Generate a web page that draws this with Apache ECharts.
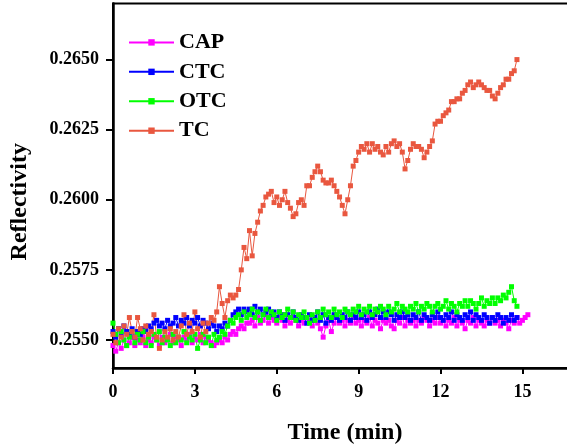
<!doctype html>
<html>
<head>
    <title>Reflectivity vs Time</title>
    <script src="https://cdn.jsdelivr.net/npm/echarts@6/dist/echarts.min.js"></script>
</head>
<style>
    html, body { margin: 0; padding: 0; background: #fff; }
    #chart { width: 567px; height: 444px; }
</style>
<body>
<div id="chart"></div>
<script>
  // sampling interval of the measurement, in min
  var sampleStep = 0.1;

  var seriesNames = ['CAP', 'CTC', 'OTC', 'TC'];
  var seriesColors = ['#ff00ff', '#0000ff', '#00ff00', '#e9573f'];

  var xTicks = [0, 3, 6, 9, 12, 15];
  var yTicks = [0.2550, 0.2575, 0.2600, 0.2625, 0.2650];

  var capValues = [
    0.2548, 0.2546, 0.2549, 0.2547, 0.2550, 0.2548, 0.2549, 0.2551, 0.2548, 0.2550,
    0.2549, 0.2551, 0.2548, 0.2550, 0.2549, 0.2551, 0.2550, 0.2548, 0.2551, 0.2549,
    0.2550, 0.2552, 0.2549, 0.2551, 0.2550, 0.2548, 0.2551, 0.2550, 0.2552, 0.2549,
    0.2551, 0.2550, 0.2552, 0.2549, 0.2551, 0.2550, 0.2549, 0.2548, 0.2549, 0.2550,
    0.2549, 0.2551, 0.2550, 0.2552, 0.2553, 0.2552, 0.2554, 0.2555, 0.2554, 0.2556,
    0.2556, 0.2557, 0.2555, 0.2558, 0.2556, 0.2557, 0.2559, 0.2556, 0.2558, 0.2557,
    0.2556, 0.2558, 0.2557, 0.2555, 0.2557, 0.2556, 0.2558, 0.2557, 0.2555, 0.2557,
    0.2556, 0.2558, 0.2557, 0.2555, 0.2557, 0.2556, 0.2554, 0.2551, 0.2555, 0.2557,
    0.2553, 0.2556, 0.2558, 0.2556, 0.2557, 0.2555, 0.2557, 0.2556, 0.2558, 0.2556,
    0.2557, 0.2555, 0.2557, 0.2556, 0.2558, 0.2555, 0.2557, 0.2556, 0.2554, 0.2557,
    0.2556, 0.2557, 0.2555, 0.2554, 0.2557, 0.2556, 0.2558, 0.2555, 0.2557, 0.2556,
    0.2557, 0.2555, 0.2557, 0.2556, 0.2558, 0.2557, 0.2555, 0.2557, 0.2556, 0.2558,
    0.2556, 0.2557, 0.2555, 0.2557, 0.2556, 0.2558, 0.2555, 0.2557, 0.2556, 0.2554,
    0.2557, 0.2556, 0.2558, 0.2555, 0.2557, 0.2556, 0.2555, 0.2557, 0.2556, 0.2558,
    0.2556, 0.2557, 0.2555, 0.2557, 0.2556, 0.2554, 0.2557, 0.2556, 0.2558, 0.2556,
    0.2557, 0.2558, 0.2559
  ];

  var ctcValues = [
    0.2553, 0.2551, 0.2554, 0.2552, 0.2555, 0.2553, 0.2552, 0.2554, 0.2551, 0.2553,
    0.2552, 0.2554, 0.2553, 0.2555, 0.2554, 0.2556, 0.2557, 0.2555, 0.2556, 0.2554,
    0.2557, 0.2555, 0.2556, 0.2558, 0.2555, 0.2557, 0.2556, 0.2558, 0.2555, 0.2557,
    0.2556, 0.2558, 0.2555, 0.2557, 0.2556, 0.2554, 0.2556, 0.2555, 0.2553, 0.2555,
    0.2554, 0.2556, 0.2555, 0.2557, 0.2559, 0.2560, 0.2561, 0.2559, 0.2561, 0.2560,
    0.2561, 0.2559, 0.2562, 0.2560, 0.2561, 0.2559, 0.2560, 0.2561, 0.2559, 0.2560,
    0.2558, 0.2560, 0.2559, 0.2557, 0.2559, 0.2558, 0.2560, 0.2558, 0.2557, 0.2559,
    0.2558, 0.2556, 0.2559, 0.2557, 0.2558, 0.2560, 0.2557, 0.2559, 0.2556, 0.2558,
    0.2557, 0.2559, 0.2558, 0.2557, 0.2559, 0.2558, 0.2560, 0.2557, 0.2559, 0.2558,
    0.2560, 0.2558, 0.2559, 0.2557, 0.2560, 0.2558, 0.2559, 0.2561, 0.2558, 0.2560,
    0.2558, 0.2560, 0.2559, 0.2557, 0.2559, 0.2558, 0.2560, 0.2558, 0.2559, 0.2557,
    0.2559, 0.2558, 0.2560, 0.2557, 0.2559, 0.2558, 0.2557, 0.2559, 0.2558, 0.2560,
    0.2558, 0.2557, 0.2559, 0.2558, 0.2560, 0.2557, 0.2559, 0.2558, 0.2557, 0.2559,
    0.2558, 0.2560, 0.2557, 0.2559, 0.2558, 0.2557, 0.2559, 0.2558, 0.2556, 0.2558,
    0.2557, 0.2559, 0.2558, 0.2556, 0.2558, 0.2557, 0.2559, 0.2557, 0.2558
  ];

  var otcValues = [
    0.2556, 0.2552, 0.2549, 0.2553, 0.2550, 0.2548, 0.2551, 0.2553, 0.2549, 0.2552,
    0.2550, 0.2553, 0.2549, 0.2551, 0.2548, 0.2552, 0.2550, 0.2553, 0.2549, 0.2551,
    0.2550, 0.2548, 0.2552, 0.2549, 0.2551, 0.2550, 0.2553, 0.2549, 0.2551, 0.2550,
    0.2552, 0.2547, 0.2550, 0.2552, 0.2549, 0.2551, 0.2548, 0.2552, 0.2550, 0.2551,
    0.2553, 0.2552, 0.2555, 0.2557, 0.2556, 0.2558, 0.2559, 0.2557, 0.2560, 0.2558,
    0.2559, 0.2561, 0.2558, 0.2560, 0.2557, 0.2559, 0.2561, 0.2558, 0.2560, 0.2559,
    0.2557, 0.2560, 0.2558, 0.2559, 0.2561, 0.2558, 0.2560, 0.2557, 0.2559, 0.2558,
    0.2560, 0.2558, 0.2556, 0.2559, 0.2557, 0.2560, 0.2558, 0.2561, 0.2559, 0.2560,
    0.2558, 0.2561, 0.2559, 0.2560, 0.2558, 0.2561, 0.2560, 0.2559, 0.2561, 0.2560,
    0.2562, 0.2559, 0.2561, 0.2560, 0.2562, 0.2559, 0.2561, 0.2560, 0.2562, 0.2561,
    0.2559, 0.2562, 0.2560, 0.2561, 0.2563, 0.2560, 0.2562, 0.2561, 0.2560, 0.2562,
    0.2561, 0.2563, 0.2560, 0.2562, 0.2561, 0.2563, 0.2562, 0.2560, 0.2562, 0.2563,
    0.2561, 0.2562, 0.2564, 0.2561, 0.2563, 0.2562, 0.2560, 0.2563, 0.2562, 0.2564,
    0.2562, 0.2564, 0.2563, 0.2561, 0.2563, 0.2565, 0.2562, 0.2564, 0.2563, 0.2565,
    0.2563, 0.2565, 0.2564, 0.2566, 0.2565, 0.2567, 0.2569, 0.2564, 0.2562
  ];

  var tcValues = [
    0.2552, 0.2549, 0.2554, 0.2551, 0.2555, 0.2552, 0.2558, 0.2553, 0.2551, 0.2558,
    0.2554, 0.2550, 0.2555, 0.2552, 0.2553, 0.2559, 0.2551, 0.2547, 0.2550, 0.2553,
    0.2551, 0.2554, 0.2550, 0.2553, 0.2551, 0.2555, 0.2559, 0.2552, 0.2556, 0.2553,
    0.2560, 0.2554, 0.2551, 0.2556, 0.2553, 0.2556, 0.2558, 0.2557, 0.2560, 0.2569,
    0.2563, 0.2558, 0.2564, 0.2566, 0.2565, 0.2566, 0.2568, 0.2575, 0.2583, 0.2579,
    0.2589, 0.2580, 0.2588, 0.2592, 0.2596, 0.2598, 0.2601, 0.2602, 0.2603, 0.2599,
    0.2601, 0.2598, 0.2600, 0.2603, 0.2599, 0.2597, 0.2594, 0.2595, 0.2599, 0.2600,
    0.2598, 0.2605, 0.2605, 0.2608, 0.2610, 0.2612, 0.2610, 0.2607, 0.2606, 0.2606,
    0.2607, 0.2605, 0.2603, 0.2601, 0.2598, 0.2595, 0.2600, 0.2605, 0.2612, 0.2614,
    0.2617, 0.2619, 0.2618, 0.2620, 0.2617, 0.2620, 0.2618, 0.2619, 0.2617, 0.2616,
    0.2619, 0.2617, 0.2620, 0.2621, 0.2619, 0.2620, 0.2617, 0.2611, 0.2614, 0.2618,
    0.2620, 0.2619, 0.2619, 0.2618, 0.2615, 0.2617, 0.2619, 0.2621, 0.2627, 0.2628,
    0.2628, 0.2630, 0.2631, 0.2632, 0.2635, 0.2635, 0.2636, 0.2636, 0.2638, 0.2639,
    0.2641, 0.2642, 0.2640, 0.2641, 0.2642, 0.2641, 0.2640, 0.2639, 0.2639, 0.2637,
    0.2636, 0.2638, 0.2640, 0.2641, 0.2643, 0.2643, 0.2645, 0.2646, 0.2650
  ];

  var allValues = [capValues, ctcValues, otcValues, tcValues];

  function toPoints(values) {
    var pts = [];
    for (var i = 0; i < values.length; i++) {
      pts.push([+(i * sampleStep).toFixed(2), values[i]]);
    }
    return pts;
  }

  var font = 'Liberation Serif, Times New Roman, serif';

  var series = seriesNames.map(function (name, k) {
    return {
      name: name,
      type: 'line',
      data: toPoints(allValues[k]),
      symbol: 'rect',
      symbolSize: 5,
      showAllSymbol: true,
      itemStyle: { color: seriesColors[k] },
      lineStyle: { color: seriesColors[k], width: 1 },
      emphasis: { disabled: true }
    };
  });

  var myChart = echarts.init(document.getElementById('chart'), null, { renderer: 'canvas' });

  myChart.setOption({
    backgroundColor: '#fff',
    animation: false,
    grid: {
      left: 113,
      right: -10,
      top: 3.5,
      bottom: 76,
      outerBoundsMode: 'none',
      containLabel: false,
      show: true,
      borderColor: '#000',
      borderWidth: 2
    },
    legend: {
      orient: 'vertical',
      left: 123,
      top: 20,
      itemWidth: 45,
      itemHeight: 8,
      itemGap: -5.4,
      data: seriesNames,
      textStyle: {
        fontFamily: font,
        fontWeight: 'bold',
        fontSize: 22,
        lineHeight: 22,
        color: '#000'
      }
    },
    xAxis: {
      type: 'value',
      min: 0,
      max: 17,
      name: 'Time (min)',
      nameLocation: 'middle',
      nameGap: 46,
      nameTextStyle: { fontFamily: font, fontWeight: 'bold', fontSize: 24, color: '#000' },
      axisLine: { lineStyle: { color: '#000', width: 2.5 } },
      axisTick: { customValues: xTicks, length: 6, lineStyle: { color: '#000', width: 2 } },
      axisLabel: {
        customValues: xTicks,
        margin: 10,
        fontFamily: font,
        fontWeight: 'bold',
        fontSize: 18,
        color: '#000'
      },
      splitLine: { show: false }
    },
    yAxis: {
      type: 'value',
      min: 0.2540,
      max: 0.2670,
      name: 'Reflectivity',
      nameLocation: 'middle',
      nameGap: 73,
      nameTextStyle: {
        fontFamily: font, fontWeight: 'bold', fontSize: 24, color: '#000',
        padding: [0, 32, 0, 0]
      },
      axisLine: { lineStyle: { color: '#000', width: 2.5 } },
      axisTick: { customValues: yTicks, length: 7, lineStyle: { color: '#000', width: 2 } },
      axisLabel: {
        customValues: yTicks,
        margin: 14,
        fontFamily: font,
        fontWeight: 'bold',
        fontSize: 18,
        color: '#000',
        formatter: function (v) { return v.toFixed(4); }
      },
      splitLine: { show: false }
    },
    series: series
  });
</script>
</body>
</html>
